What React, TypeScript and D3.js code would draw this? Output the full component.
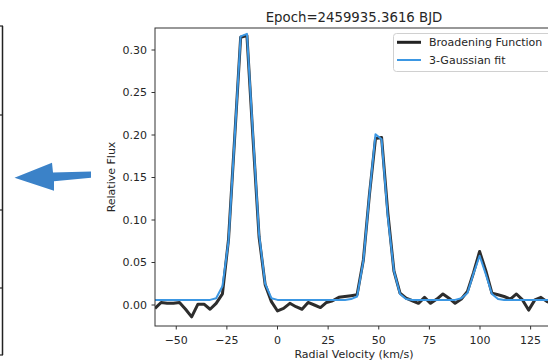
import React from "react";
import * as d3 from "d3";

const velocities = [
  -60.5, -57.5, -54.5, -51.4, -48.4, -45.4, -42.4, -39.3, -36.3, -33.3,
  -30.3, -27.2, -24.2, -21.2, -18.2, -15.1, -12.1, -9.1, -6.1, -3.0,
  0.0, 3.0, 6.1, 9.1, 12.1, 15.1, 18.2, 21.2, 24.2, 27.2,
  30.3, 33.3, 36.3, 39.3, 42.4, 45.4, 48.4, 51.4, 54.5, 57.5,
  60.5, 63.5, 66.6, 69.6, 72.6, 75.6, 78.7, 81.7, 84.7, 87.7,
  90.8, 93.8, 96.8, 99.8, 102.9, 105.9, 108.9, 111.9, 115.0, 118.0,
  121.0, 124.0, 127.1, 130.1, 133.1, 136.1,
];

const broadeningFunction = [
  -0.004, 0.003, 0.002, 0.002, 0.003, -0.005, -0.014, 0.001, 0.001, -0.005,
  0.002, 0.013, 0.077, 0.195, 0.315, 0.317, 0.196, 0.080, 0.024, 0.004,
  -0.007, -0.004, 0.002, -0.002, -0.005, 0.003, 0.0, -0.003, 0.003, 0.005,
  0.009, 0.010, 0.011, 0.012, 0.053, 0.130, 0.196, 0.197, 0.108, 0.040,
  0.014, 0.008, 0.005, 0.002, 0.009, 0.002, 0.007, 0.013, 0.008, 0.002,
  0.007, 0.016, 0.038, 0.063, 0.040, 0.014, 0.012, 0.010, 0.007, 0.013,
  0.006, -0.006, 0.006, 0.009, 0.004, 0.002,
];

const gaussianFit = [
  0.006, 0.006, 0.006, 0.006, 0.006, 0.006, 0.006, 0.006, 0.006, 0.006,
  0.008, 0.022, 0.075, 0.195, 0.316, 0.319, 0.200, 0.083, 0.025, 0.008,
  0.006, 0.006, 0.006, 0.006, 0.006, 0.006, 0.006, 0.006, 0.006, 0.006,
  0.006, 0.006, 0.007, 0.010, 0.052, 0.130, 0.201, 0.195, 0.103, 0.040,
  0.013, 0.007, 0.006, 0.006, 0.006, 0.006, 0.006, 0.006, 0.006, 0.006,
  0.008, 0.014, 0.037, 0.058, 0.036, 0.013, 0.007, 0.006, 0.006, 0.006,
  0.006, 0.006, 0.006, 0.006, 0.006, 0.006,
];

const xTicks = [-50, -25, 0, 25, 50, 75, 100, 125];
const yTicks = [0.0, 0.05, 0.1, 0.15, 0.2, 0.25, 0.3];
const title = "Epoch=2459935.3616 BJD";
const xLabel = "Radial Velocity (km/s)";
const yLabel = "Relative Flux";
const legendLabels = ["Broadening Function", "3-Gaussian fit"];
const tableRows = [26, 115, 210, 288, 355];

const FONT = "DejaVu Sans, sans-serif";

export default function App() {
  const left = 155, right = 553.1, top = 28, bottom = 326;
  const x = d3.scaleLinear().domain([-60.5, 136.1]).range([left, right]);
  const y = d3.scaleLinear().domain([-0.0247, 0.3259]).range([bottom, top]);

  const line = d3
    .line<[number, number]>()
    .x((d) => x(d[0]))
    .y((d) => y(d[1]));

  const bfPts = velocities.map((v, i) => [v, broadeningFunction[i]] as [number, number]);
  const fitPts = velocities.map((v, i) => [v, gaussianFit[i]] as [number, number]);

  const textColor = "#262626";

  return (
    <svg
      width={548}
      height={363}
      style={{ position: "absolute", left: 0, top: 0, background: "#fff" }}
      fontFamily={FONT}
    >
      <rect x={0} y={0} width={548} height={363} fill="#fff" />
      {/* table edge on the left */}
      <line x1={2.5} x2={2.5} y1={tableRows[0]} y2={tableRows[tableRows.length - 1]} stroke="#222" strokeWidth={1.5} />
      {tableRows.map((r) => (
        <line key={r} x1={0} x2={3} y1={r} y2={r} stroke="#222" strokeWidth={1.2} />
      ))}
      {/* arrow */}
      <polygon
        points="14.5,177.7 52,162.7 53,172.6 91,171.6 91,177.8 54,181.2 54,190.8"
        fill="#3b82c8"
      />

      <defs>
        <clipPath id="plotclip">
          <rect x={left} y={top} width={right - left} height={bottom - top} />
        </clipPath>
      </defs>

      <g clipPath="url(#plotclip)">
        <path d={line(bfPts) || ""} fill="none" stroke="#222" strokeWidth={3} strokeOpacity={0.95} strokeLinejoin="round" />
        <path d={line(fitPts) || ""} fill="none" stroke="#3b97e3" strokeWidth={2} strokeLinejoin="round" />
      </g>

      {/* spines */}
      <rect x={left} y={top} width={right - left} height={bottom - top} fill="none" stroke="#333" strokeWidth={1} />

      {/* x ticks */}
      {xTicks.map((t) => (
        <g key={t}>
          <line x1={x(t)} x2={x(t)} y1={bottom} y2={bottom + 3.5} stroke="#333" strokeWidth={1} />
          <text x={x(t)} y={344} fontSize={11} textAnchor="middle" fill={textColor}>
            {t < 0 ? "\u2212" + Math.abs(t) : String(t)}
          </text>
        </g>
      ))}
      {/* y ticks */}
      {yTicks.map((t) => (
        <g key={t}>
          <line x1={left - 3.5} x2={left} y1={y(t)} y2={y(t)} stroke="#333" strokeWidth={1} />
          <text x={147} y={y(t)} dy="0.36em" fontSize={11} textAnchor="end" fill={textColor}>
            {t.toFixed(2)}
          </text>
        </g>
      ))}

      <text x={354} y={21.5} fontSize={13.3} textAnchor="middle" fill={textColor}>
        {title}
      </text>
      <text x={354} y={358} fontSize={11} textAnchor="middle" fill={textColor}>
        {xLabel}
      </text>
      <text
        transform={`translate(115,${(top + bottom) / 2}) rotate(-90)`}
        fontSize={11}
        textAnchor="middle"
        fill={textColor}
      >
        {yLabel}
      </text>

      {/* legend */}
      <rect x={393.5} y={33.5} width={170} height={38} rx={3} ry={3} fill="#fff" fillOpacity={0.8} stroke="#d0d0d0" strokeWidth={1} />
      <line x1={397} x2={421} y1={42.3} y2={42.3} stroke="#222" strokeWidth={3} />
      <line x1={397} x2={421} y1={60} y2={60} stroke="#3b97e3" strokeWidth={2} />
      <text x={429} y={46.2} fontSize={11} fill={textColor}>{legendLabels[0]}</text>
      <text x={429} y={64} fontSize={11} fill={textColor}>{legendLabels[1]}</text>
    </svg>
  );
}
